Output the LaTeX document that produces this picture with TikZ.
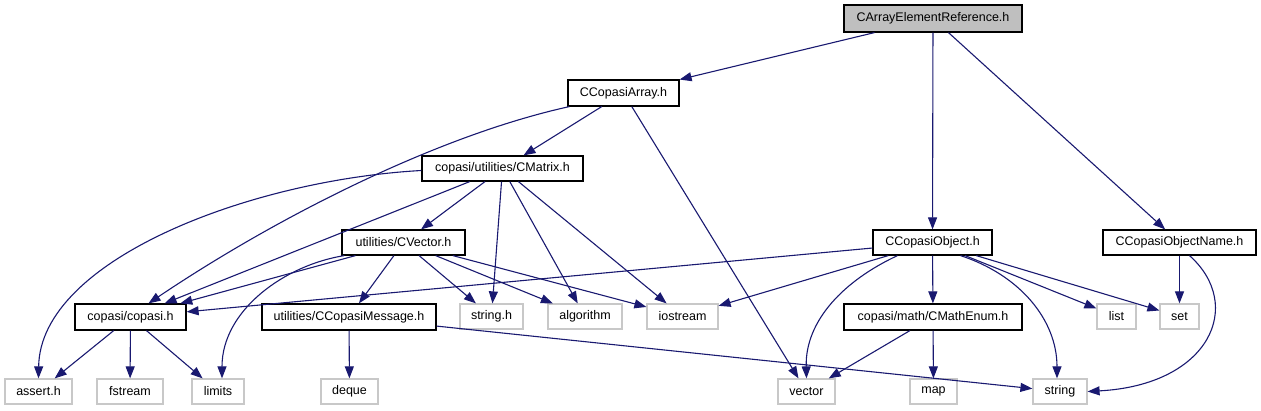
\documentclass[tikz,border=0pt]{standalone}
\usepackage{fontspec}
\setmainfont{Liberation Sans}
\usetikzlibrary{arrows.meta}
\definecolor{edgeblue}{RGB}{25,25,112}
\definecolor{rootgray}{RGB}{191,191,191}
\definecolor{sysgray}{RGB}{200,200,200}

\begin{document}
\begin{tikzpicture}[x=1pt, y=-1pt,
    file/.style={draw=black, line width=1.2pt, inner sep=0pt, minimum height=25pt,
        font=\fontsize{12.5}{14}\selectfont},
    sysfile/.style={file, draw=sysgray},
    dep/.style={edgeblue, line width=1.1pt, -{Triangle[length=12pt,width=9pt]}}]
    \useasboundingbox (0,0) rectangle (1261,411);
    % project headers
    \node[file, fill=rootgray, minimum width=178pt, minimum height=27pt] (root) at (933,18.5) {CArrayElementReference.h};
    \node[file, minimum width=111pt, minimum height=26pt] (array) at (623.5,93) {CCopasiArray.h};
    \node[file, minimum width=161pt] (matrix) at (502.5,168.5) {copasi/utilities/CMatrix.h};
    \node[file, minimum width=123pt] (cvector) at (403.5,242.5) {utilities/CVector.h};
    \node[file, minimum width=119pt] (cobject) at (932.5,242.5) {CCopasiObject.h};
    \node[file, minimum width=153pt] (objname) at (1179.5,242.5) {CCopasiObjectName.h};
    \node[file, minimum width=111pt, minimum height=26pt] (copasi) at (130.5,317) {copasi/copasi.h};
    \node[file, minimum width=174pt, minimum height=26pt] (message) at (349,317) {utilities/CCopasiMessage.h};
    \node[file, minimum width=178pt, minimum height=26pt] (mathenum) at (933,317) {copasi/math/CMathEnum.h};
    % system headers
    \node[sysfile, minimum width=63pt] (stringh) at (491.5,316.5) {string.h};
    \node[sysfile, minimum width=74pt] (algorithm) at (585,316.5) {algorithm};
    \node[sysfile, minimum width=71pt] (iostream) at (682.5,316.5) {iostream};
    \node[sysfile, minimum width=39pt] (list) at (1116.5,316.5) {list};
    \node[sysfile, minimum width=39pt] (set) at (1179.5,316.5) {set};
    \node[sysfile, minimum width=67pt] (assert) at (38.5,391.5) {assert.h};
    \node[sysfile, minimum width=66pt] (fstream) at (130,391.5) {fstream};
    \node[sysfile, minimum width=52pt] (limits) at (218,391.5) {limits};
    \node[sysfile, minimum width=57pt] (deque) at (349.5,391.5) {deque};
    \node[sysfile, minimum width=57pt] (vector) at (806.5,391.5) {vector};
    \node[sysfile, minimum width=47pt] (map) at (933.5,391.5) {map};
    \node[sysfile, minimum width=54pt] (string) at (1060,391.5) {string};
    % includes
    \draw[dep] (root) -- (array);
    \draw[dep] (root) -- (cobject);
    \draw[dep] (root) -- (objname);
    \draw[dep] ([xshift=2pt]array.south west) .. controls (440,135) and (280,215) .. ([xshift=18pt]copasi.north);
    \draw[dep] (array) -- (matrix);
    \draw[dep] (array) -- (vector);
    \draw[dep] ([yshift=-2pt]matrix.west) .. controls (250,180) and (40,260) .. (assert.north);
    \draw[dep] (matrix) -- (copasi);
    \draw[dep] (matrix) -- (cvector);
    \draw[dep] (matrix) -- (stringh);
    \draw[dep] (matrix) -- (algorithm);
    \draw[dep] (matrix) -- (iostream);
    \draw[dep] (cvector) -- (copasi);
    \draw[dep] ([xshift=3pt]cvector.south west) .. controls (285,265) and (222,310) .. ([xshift=4pt]limits.north);
    \draw[dep] (cvector) -- (message);
    \draw[dep] (cvector) -- (stringh);
    \draw[dep] (cvector) -- (algorithm);
    \draw[dep] (cvector) -- (iostream);
    \draw[dep] (copasi) -- (assert);
    \draw[dep] (copasi) -- (fstream);
    \draw[dep] (copasi) -- (limits);
    \draw[dep] (message) -- (deque);
    \draw[dep] (message) -- (string);
    \draw[dep] (cobject) -- (copasi);
    \draw[dep] (cobject) -- (iostream);
    \draw[dep] ([xshift=-35pt]cobject.south) .. controls (845,280) and (805,320) .. (vector.north);
    \draw[dep] (cobject) -- (mathenum);
    \draw[dep] ([xshift=28pt]cobject.south) .. controls (1020,275) and (1057,320) .. ([xshift=-3pt]string.north);
    \draw[dep] (cobject) -- (list);
    \draw[dep] (cobject) -- (set);
    \draw[dep] (objname) -- (set);
    \draw[dep] ([xshift=10pt]objname.south) .. controls (1245,305) and (1210,385) .. (string.east);
    \draw[dep] (mathenum) -- (vector);
    \draw[dep] (mathenum) -- (map);
\end{tikzpicture}
\end{document}
